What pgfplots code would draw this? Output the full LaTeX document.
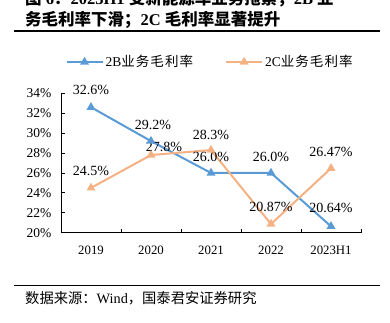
\documentclass[border=0pt]{standalone}
\usepackage{fontspec}
\setmainfont{Liberation Serif}
\newfontfamily\cjk{Noto Sans CJK SC}
\newfontfamily\cjks[LetterSpace=8]{Noto Sans CJK SC}
\usepackage{pgfplots}
\pgfplotsset{compat=1.18}
\definecolor{bblue}{RGB}{91,155,213}
\definecolor{corange}{RGB}{244,177,131}
\begin{document}
\begin{tikzpicture}
\useasboundingbox (0,0) rectangle (390pt,322pt);
\clip (0,0) rectangle (390pt,322pt);
% title
\node[anchor=west,font=\fontsize{16.5}{18}\selectfont\bfseries,inner sep=0pt] at (25pt,323pt) {{\cjk 图} 6{\cjk ：}2023H1 {\cjk 受新能源车业务拖累，}2B {\cjk 业}};
\node[anchor=west,font=\fontsize{16.5}{18}\selectfont\bfseries,inner sep=0pt] at (25pt,302pt) {{\cjk 务毛利率下滑；}2C {\cjk 毛利率显著提升}};
\draw[line width=1.4pt] (14pt,291pt) -- (380pt,291pt);
% footer
\draw[line width=0.9pt] (14pt,37pt) -- (380pt,37pt);
\node[anchor=west,font=\fontsize{14.3}{16}\selectfont,inner sep=0pt] at (25pt,24pt) {{\cjk 数据来源：}Wind{\cjk ，国泰君安证券研究}};
\begin{axis}[
  at={(61pt,89.3pt)}, anchor=south west,
  scale only axis, width=300pt, height=139.4pt,
  xmin=-0.5, xmax=4.5, ymin=20, ymax=34,
  axis x line=bottom, axis y line=left,
  axis line style={-, black, line width=0.8pt},
  tick style={black, line width=0.8pt},
  tick align=inside, major tick length=4pt,
  xtick={-0.5,0.5,1.5,2.5,3.5,4.5},
  xticklabels={2019,2020,2021,2022,2023H1},
  x tick label as interval,
  ytick={20,22,...,34},
  yticklabels={20\%,22\%,24\%,26\%,28\%,30\%,32\%,34\%},
  xticklabel style={font=\fontsize{12.8}{14}\selectfont, yshift=-10pt},
  yticklabel style={font=\fontsize{13.5}{15}\selectfont, xshift=-6pt},
  legend columns=2,
  legend style={draw=none, fill=none, at={(0.497,1.2245)}, anchor=center,
    font=\fontsize{13.5}{15}\selectfont, /tikz/every even column/.append style={column sep=30pt}},
  legend image code/.code={\draw[mark repeat=2,mark phase=2,#1] plot coordinates {(0pt,0pt) (18pt,0pt) (36pt,0pt)};},
  clip=false,
]
\addplot[color=bblue, line width=2pt, mark=triangle*, mark size=3.2pt] coordinates {(0,32.6) (1,29.2) (2,26.0) (3,26.0) (4,20.64)};
\addlegendentry{2B{\cjks 业务毛利率}}
\addplot[color=corange, line width=2pt, mark=triangle*, mark size=3.2pt] coordinates {(0,24.5) (1,27.8) (2,28.3) (3,20.87) (4,26.47)};
\addlegendentry{2C{\cjks 业务毛利率}}
\begin{scope}[every node/.style={font=\fontsize{14}{15}\selectfont, inner sep=0pt}]
\node at (axis cs:0,32.6) [yshift=17pt] {32.6\%};
\node at (axis cs:1,29.2) [yshift=16pt, xshift=2pt] {29.2\%};
\node at (axis cs:2,26.0) [yshift=16pt] {26.0\%};
\node at (axis cs:3,26.0) [yshift=16pt] {26.0\%};
\node at (axis cs:4,20.64) [yshift=18pt] {20.64\%};
\node at (axis cs:0,24.5) [yshift=17pt] {24.5\%};
\node at (axis cs:1,27.8) [yshift=8pt, xshift=13pt] {27.8\%};
\node at (axis cs:2,28.3) [yshift=15pt] {28.3\%};
\node at (axis cs:3,20.87) [yshift=17pt] {20.87\%};
\node at (axis cs:4,26.47) [yshift=16pt] {26.47\%};
\end{scope}
\end{axis}
\end{tikzpicture}
\end{document}
